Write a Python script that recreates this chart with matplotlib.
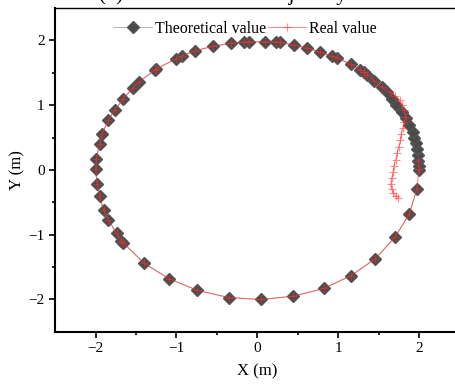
import matplotlib.pyplot as plt

plt.rcParams['font.family'] = ['Liberation Serif', 'DejaVu Serif']

# theoretical trajectory, counter-clockwise from (2, 0)
theo_x = [2.00, 2.00, 1.99, 1.99, 1.98, 1.96, 1.94, 1.92, 1.88, 1.84, 1.79, 1.72, 1.66,
          1.60, 1.54, 1.44, 1.36, 1.32, 1.27, 1.16, 0.99, 0.92, 0.78, 0.62, 0.45, 0.28,
          0.23, 0.10, -0.10, -0.16, -0.32, -0.55, -0.77, -0.93, -1.00, -1.25, -1.27,
          -1.46, -1.54, -1.66, -1.76, -1.84, -1.92, -1.95, -1.99, -2.00, -1.98, -1.95,
          -1.90, -1.84, -1.74, -1.68, -1.66, -1.40, -1.09, -0.74, -0.35, 0.04, 0.44,
          0.82, 1.16, 1.46, 1.70, 1.88, 1.97]
theo_y = [0.00, 0.06, 0.14, 0.23, 0.32, 0.41, 0.50, 0.59, 0.69, 0.80, 0.90, 1.00, 1.10,
          1.20, 1.28, 1.38, 1.47, 1.51, 1.55, 1.63, 1.73, 1.76, 1.82, 1.88, 1.93, 1.97,
          1.98, 1.98, 1.98, 1.98, 1.96, 1.91, 1.84, 1.76, 1.72, 1.56, 1.54,
          1.36, 1.27, 1.09, 0.93, 0.77, 0.56, 0.40, 0.17, 0.01, -0.22, -0.40,
          -0.62, -0.77, -0.98, -1.09, -1.12, -1.44, -1.68, -1.86, -1.97, -2.00, -1.95,
          -1.83, -1.63, -1.37, -1.04, -0.68, -0.30]

# real trajectory: converging part, then it follows the theoretical points
real_start_x = [1.745, 1.71, 1.68, 1.66, 1.65, 1.66, 1.68, 1.69, 1.71, 1.73, 1.75, 1.77,
                1.78, 1.80, 1.81, 1.84, 1.81, 1.79, 1.76, 1.70, 1.64]
real_start_y = [-0.435, -0.40, -0.35, -0.29, -0.22, -0.13, -0.03, 0.06, 0.16, 0.26, 0.36,
                0.46, 0.55, 0.65, 0.74, 0.82, 0.92, 1.00, 1.08, 1.14, 1.20]
real_x = real_start_x + theo_x[14:] + [2.00, 1.99]
real_y = real_start_y + theo_y[14:] + [0.02, 0.14]

fig = plt.figure(figsize=(4.55, 3.85), dpi=100)
ax = fig.add_axes([0.121, 0.138, 0.889, 0.841])

ax.plot(theo_x, theo_y, color='#aaaaaa', lw=0.6, marker='D', markersize=6,
        markerfacecolor='#4a4a4a', markeredgecolor='#555555', label='Theoretical value')
ax.plot(real_x, real_y, color='#ff3030', lw=0.8, alpha=0.55, marker='+', markersize=6,
        markeredgewidth=0.8, label='Real value')

ax.set_xlim(-2.5, 2.5)
ax.set_ylim(-2.5, 2.5)
ax.set_xticks([-2, -1, 0, 1, 2])
ax.set_yticks([-2, -1, 0, 1, 2])
ax.set_xticks([-1.5, -0.5, 0.5, 1.5], minor=True)
ax.set_yticks([-1.5, -0.5, 0.5, 1.5], minor=True)
ax.tick_params(which='both', direction='out', labelsize=11, width=1.2)
ax.tick_params(which='major', length=4)
ax.tick_params(which='minor', length=2.5)
ax.set_xlabel('X (m)', fontsize=12, labelpad=6)
ax.set_ylabel('Y (m)', fontsize=12, labelpad=2)
for s in ['left', 'bottom']:
    ax.spines[s].set_linewidth(1.5)
ax.spines['top'].set_linewidth(1.0)

ax.legend(loc='upper center', bbox_to_anchor=(0.47, 1.0), ncol=2, frameon=False,
          fontsize=11.5, handlelength=2.4, handletextpad=0.2, columnspacing=0.1,
          borderaxespad=0.4)

fig.text(0.49, 1.0, '(b) Circular motion trajectory', fontsize=15,
         ha='center', va='baseline')

fig.savefig('out.png', dpi=100)
